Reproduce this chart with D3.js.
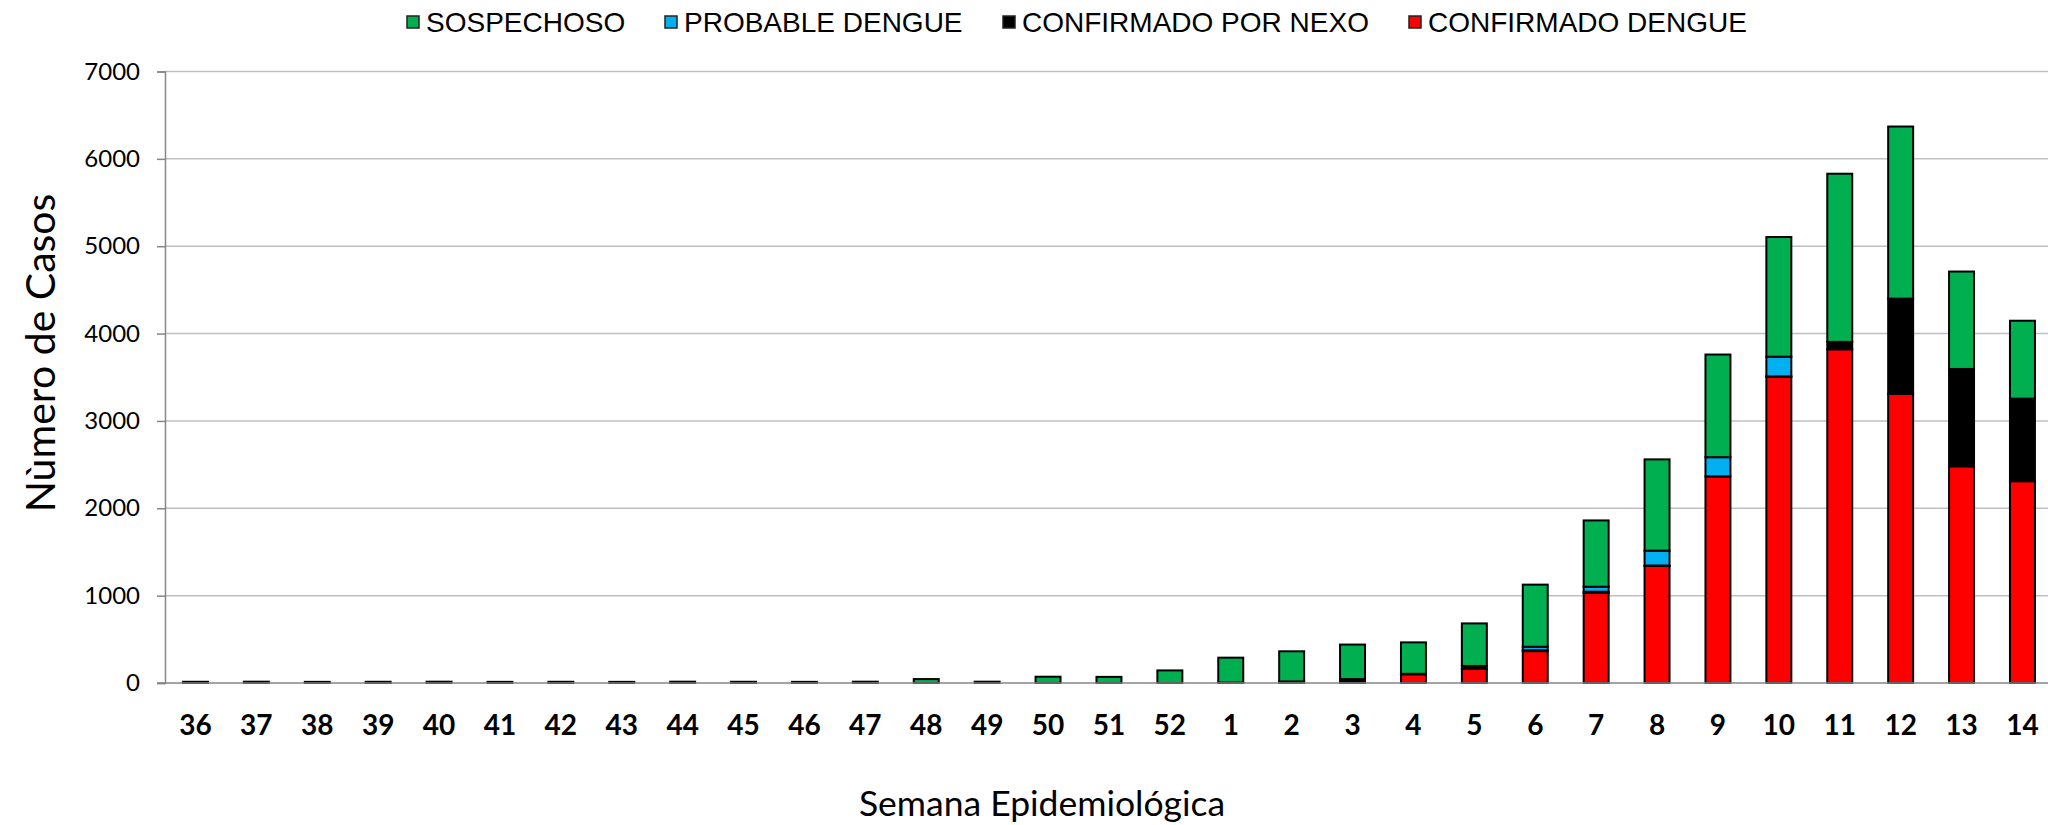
<!DOCTYPE html>
<html>
<head>
<meta charset="utf-8">
<script src="https://cdn.jsdelivr.net/npm/d3@7"></script>
<style>
  html, body { margin: 0; padding: 0; background: #ffffff; }
  svg { display: block; }
</style>
</head>
<body>
<svg id="chart" width="2048" height="825"></svg>
<script>
// ---- data ----
const weeks = ["36","37","38","39","40","41","42","43","44","45","46","47","48","49","50","51","52",
               "1","2","3","4","5","6","7","8","9","10","11","12","13","14"];
const sospechoso = [14,15,13,14,15,13,14,13,15,14,13,15,45,15,72,70,144,
                    285,345,395,360,487,711,759,1045,1175,1370,1925,1970,1115,892];
const probableDengue = [0,0,0,0,0,0,0,0,0,0,0,0,0,0,0,0,0,
                        0,0,0,0,0,40,57,170,220,225,0,0,0,0];
const confirmadoNexo = [0,0,0,0,0,0,0,0,0,0,0,0,0,0,0,0,0,
                        5,18,40,5,35,10,15,5,0,5,85,1090,1115,945];
const confirmadoDengue = [0,0,0,0,0,0,0,0,0,0,0,0,0,0,0,0,0,
                          0,0,5,100,160,365,1030,1340,2365,3505,3820,3310,2480,2310];
const yTicks = [0,1000,2000,3000,4000,5000,6000,7000];
const seriesNames = ["CONFIRMADO DENGUE","CONFIRMADO POR NEXO","PROBABLE DENGUE","SOSPECHOSO"];
const seriesColors = ["#FF0000","#000000","#00B0F0","#00B050"];
const legendOrder = ["SOSPECHOSO","PROBABLE DENGUE","CONFIRMADO POR NEXO","CONFIRMADO DENGUE"];

// ---- build table ----
const keys = ["confirmado","nexo","probable","sospechoso"];
const table = weeks.map((w,i) => ({
  week: w,
  confirmado: confirmadoDengue[i],
  nexo: confirmadoNexo[i],
  probable: probableDengue[i],
  sospechoso: sospechoso[i]
}));
const stacked = d3.stack().keys(keys)(table);
const colorOf = k => seriesColors[keys.indexOf(k)];

// ---- layout ----
const svg = d3.select("#chart");
const x0 = 165, yBase = 683, yTop = 71.5;
const step = 60.9;
const x = d3.scaleBand().domain(weeks).range([x0, x0 + step*weeks.length]).paddingInner(0.59).paddingOuter(0.295);
const y = d3.scaleLinear().domain([0,7000]).range([yBase, yTop]);

// gridlines
svg.append("g").selectAll("line").data(yTicks.filter(d => d > 0)).join("line")
  .attr("x1", x0).attr("x2", 2048)
  .attr("y1", d => y(d)).attr("y2", d => y(d))
  .attr("stroke", "#c0c0c0").attr("stroke-width", 1.5);

// y axis
const yAxis = d3.axisLeft(y).tickValues(yTicks).tickSize(8).tickPadding(17).tickFormat(d3.format("d"));
const gy = svg.append("g").attr("transform", `translate(${x0},0)`).call(yAxis);
gy.select(".domain").attr("stroke", "#868686").attr("stroke-width", 1.5);
gy.selectAll(".tick line").attr("stroke", "#868686").attr("stroke-width", 1.5);
gy.selectAll("text").attr("font-family", "Lato, 'Open Sans', sans-serif").attr("font-size", 24).attr("fill", "#000");

// bars
svg.append("g").selectAll("g").data(stacked).join("g")
  .attr("fill", d => colorOf(d.key))
  .selectAll("rect").data(d => d.filter(s => s[1] - s[0] > 0)).join("rect")
  .attr("x", d => x(d.data.week))
  .attr("width", x.bandwidth())
  .attr("y", d => y(d[1]))
  .attr("height", d => y(d[0]) - y(d[1]))
  .attr("stroke", "#000").attr("stroke-width", 2);

// x axis
const xAxis = d3.axisBottom(x).tickSize(0).tickPadding(32);
const gx = svg.append("g").attr("transform", `translate(0,${yBase})`).call(xAxis);
gx.select(".domain").attr("stroke", "#868686").attr("stroke-width", 1.5)
  .attr("d", `M${x0-8},0H2048`);
gx.selectAll("text").attr("font-family", "Lato, 'Open Sans', sans-serif").attr("font-size", 28)
  .attr("font-weight", "bold").attr("fill", "#000");

// axis titles
svg.append("text").attr("x", 1042).attr("y", 802).attr("text-anchor", "middle")
  .attr("dominant-baseline", "central")
  .attr("font-family", "Lato, 'Open Sans', sans-serif").attr("font-size", 35.5).attr("fill", "#000")
  .text("Semana Epidemiológica");
svg.append("text").attr("transform", "translate(39,353) rotate(-90)").attr("text-anchor", "middle")
  .attr("dominant-baseline", "central")
  .attr("font-family", "Lato, 'Open Sans', sans-serif").attr("font-size", 41).attr("fill", "#000")
  .text("Nùmero de Casos");

// legend
const legendX = [407, 665, 1003, 1409];
const lg = svg.append("g").selectAll("g").data(legendOrder).join("g")
  .attr("transform", (d,i) => `translate(${legendX[i]},22)`);
lg.append("rect").attr("x", 0).attr("y", -6).attr("width", 12).attr("height", 12)
  .attr("fill", d => seriesColors[seriesNames.indexOf(d)]).attr("stroke", "#222").attr("stroke-width", 1.5);
lg.append("text").attr("x", 19).attr("y", 0).attr("dominant-baseline", "central")
  .attr("font-family", "'Liberation Sans', Arial, sans-serif").attr("font-size", 28).attr("fill", "#000")
  .text(d => d);
</script>
</body>
</html>
